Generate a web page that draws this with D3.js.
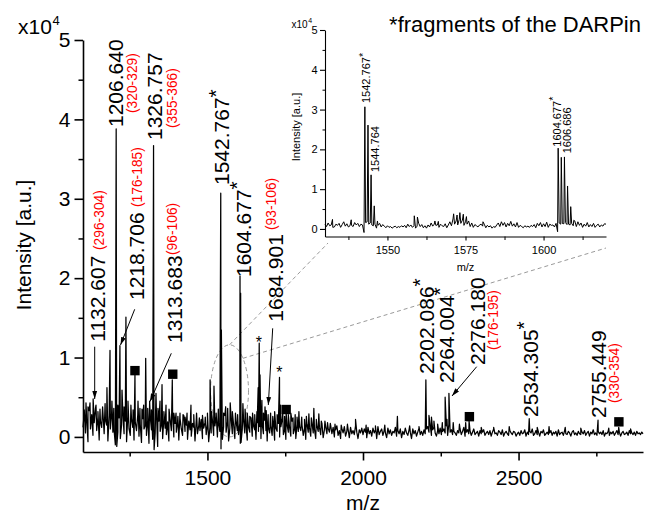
<!DOCTYPE html>
<html><head><meta charset="utf-8">
<script src="https://cdn.jsdelivr.net/npm/d3@7"></script>
<style>
body{margin:0;background:#fff;}
svg{display:block;font-family:"Liberation Sans",Arial,Helvetica,sans-serif;}
</style></head><body>
<svg id="c" width="645" height="513"></svg>
<script>
// ---------------- DATA (intensity in units of 10^4 a.u.) ----------------
const mzStart = 1100, mzStep = 4;          // regular sampling of baseline noise
const noise = [
.12,.30,.05,.22,-.06,.33,.10,.28,.02,.18,.36,.08,.25,-.04,.20,.12,.31,.04,.22,.15,-.05,.27,.10,.30,.06,
.08,-.10,.18,.06,.24,-.02,.15,.30,.04,.20,-.06,.26,.10,.02,.22,.12,-.04,.19,.08,.28,.01,.16,-.07,.23,.10,
.14,.02,.21,-.08,.26,.09,-.03,.18,.05,.31,-.12,.20,.07,.15,-.02,.24,.11,.03,.19,-.05,.22,.08,.29,.00,.17,
.06,.19,-.04,.23,.10,.02,.27,.07,.15,-.03,.20,.09,.01,.17,.12,-.05,.21,.04,.14,.08,.22,-.02,.11,.18,.03,
.16,-.06,.12,.05,.21,.02,.14,.26,.00,.18,.07,.24,-.03,.13,.27,.06,.19,-.05,.11,.23,.04,.16,-.02,.20,.08,
.03,.17,-.07,.10,.22,.05,.15,-.04,.12,.06,.24,.01,.14,.09,-.03,.18,.07,.13,-.02,.16,.04,.21,.08,-.05,.12,
.05,.14,.02,.19,-.04,.11,.07,.17,.00,.13,.22,.03,.09,-.03,.15,.06,.12,.01,.20,.04,.10,-.02,.16,.07,.13,
.08,.15,.02,.11,-.03,.16,.06,.12,.01,.18,.05,.10,-.02,.14,.07,.12,.03,.17,-.01,.09,.13,.04,.11,.06,.15,
.04,.12,.00,.09,.14,.02,.08,-.02,.11,.05,.13,.01,.07,.10,-.01,.12,.04,.08,.03,.14,.06,-.02,.09,.05,.11,
.03,.10,.06,-.01,.12,.04,.08,.01,.11,.05,.09,-.02,.13,.03,.07,.10,.02,.08,.05,-.01,.11,.04,.09,.02,.07,
.05,.12,.01,.08,.04,.10,-.01,.07,.03,.11,.05,.02,.09,.06,-.02,.10,.04,.08,.01,.06,.11,.03,.07,.02,.09,
.04,.10,.13,.06,.15,.02,.09,.12,.05,.01,.08,.04,.11,.03,.07,.10,.05,.14,.02,.16,.06,.09,.03,.07,.05,
.02,.08,.05,.10,.03,.07,.12,.01,.06,.09,.04,.08,.02,.06,.10,.03,.05,.07,.01,.08,.04,.06,.09,.02,.05,
.07,.03,.08,.01,.06,.10,.04,.05,.02,.08,.06,.03,.09,.01,.05,.07,.04,.02,.08,.05,.03,.07,.06,.01,.04,
.06,.02,.08,.04,.05,.09,.01,.06,.03,.07,.05,.10,.02,.04,.08,.03,.06,.01,.07,.05,.09,.02,.04,.06,.03,
.05,.08,.02,.06,.04,.07,.01,.09,.03,.05,.06,.02,.08,.04,.03,.07,.05,.01,.06,.08,.03,.05,.02,.07,.04,
.03,.06,.04,.08,.02,.05,.07,.01,.06,.04,.09,.03,.05,.02,.07,.04,.06,.03,.08,.01,.05,.04,.07,.02,.06,
.04,.07,.02,.05,.08,.03,.06,.01,.05,.07,.03,.04,.06,.02,.08,.04,.05,.03,.06,.02,.07,.04,.05,.03,.06,
.04];
const peaks = [
[1104,.34],[1109.6,.43],[1116,.38],[1122.5,.43],[1132.6,.48],[1141.8,.40],[1148,.32],[1154.6,.35],[1163,.38],
[1171,.42],[1177,.62],[1186.8,1.09],[1193,.45],[1199,.36],[1206.64,3.88],[1208.5,-.12],[1212,.40],[1218.71,1.15],
[1225.4,.59],[1232,.38],[1238,1.51],[1244.6,.45],[1254,.40],[1261,.34],[1267,.78],[1276.8,.45],[1283,.36],
[1289.6,.35],[1295,.40],[1301.5,.99],[1308,.36],[1314.2,.45],[1320,.34],[1326.76,3.67],[1328.5,-.16],[1334.6,.55],
[1341,.36],[1347.5,.45],[1354,.66],[1360,.32],[1366.8,.40],[1376.5,.35],[1387,.72],[1392,.30],[1399,.30],
[1405,.26],[1411.8,.30],[1421.5,.28],[1428,.25],[1434.4,.30],[1447,.40],[1456,.28],[1465,.30],[1474,.24],
[1484,.27],[1493,.25],[1500,.30],[1508.5,.72],[1513,.32],[1521,.64],[1528,.30],[1535,.35],[1542.77,3.07],
[1543.6,-.15],[1544.76,1.35],[1552,.30],[1558.6,.38],[1565,.36],[1573.2,.43],[1580,.32],[1590,.30],[1597,.28],
[1604.68,2.03],[1605.6,-.08],[1606.69,1.81],[1614,.42],[1621,.35],[1628,.30],[1636,.26],[1645,.30],[1652,.28],
[1659,.32],[1663,.62],[1666.4,1.18],[1669,.78],[1675,.46],[1680,.30],[1685,.38],[1689,.33],[1695,.28],
[1703,.30],[1710,.26],[1716,.32],[1724,.28],[1731.6,.75],[1735,.40],[1742,.30],[1748,.26],[1753,.30],
[1760,.28],[1768,.30],[1775,.24],[1782,.28],[1788,.25],[1794,.32],[1803,.25],[1812,.22],[1818,.26],
[1826,.29],[1834,.24],[1842,.36],[1850,.22],[1858,.29],[1866,.20],[1877.6,.20],[1886,.18],[1895,.17],
[1910,.16],[1930,.15],[1950,.16],[1976,.22],[2010,.15],[2040,.14],[2070,.15],[2110.6,.26],[2150,.14],
[2180,.13],[2202.09,.72],[2212,.27],[2220,.25],[2228,.20],[2240,.16],[2255,.18],[2264.0,.50],[2270,.22],
[2276.18,.55],[2290,.18],[2310,.16],[2330,.18],[2341,.20],[2380,.12],[2420,.12],[2470,.13],[2534.3,.23],
[2560,.12],[2598,.13],[2650,.12],[2700,.11],[2755.45,.21],[2790,.11],[2822,.12],[2860,.10]];

const insetStart = 1530, insetStep = 0.5;
const insetNoise = [
.12,.06,.15,.08,.10,.04,.05,.12,.09,.14,
.04,.11,.18,.07,.13,.05,.08,.09,.06,.16,
.10,.14,.06,.12,.10,-.09,.16,.18,.12,.15,
.10,.08,.12,.02,.09,.14,.05,.11,.07,.03,
.08,.04,.06,.02,.05,.07,.03,.06,.04,.08,
.05,.09,.03,.12,.06,.10,.04,.08,.02,.07,
.14,.06,.11,.03,.08,.02,.10,.05,.15,.07,
.12,.09,.10,.04,.12,.08,.06,.13,.03,.10,
.18,.08,.25,.12,.20,.10,.24,.14,.22,.09,
.18,.12,.20,.06,.15,.04,.11,.08,.05,.10,
.12,.07,.12,.03,.09,.05,.08,.02,.06,.04,
.10,.15,.06,.18,.09,.16,.05,.14,.08,.19,
.07,.13,.05,.16,.04,.09,.06,.03,.08,.05,
.07,.04,.09,.06,.11,.03,.14,.08,.16,.05,
.13,.06,.17,.04,.12,.09,.10,.05,.14,-.07,
.15,.12,.14,.13,.16,.11,.12,.10,.14,.08,
.20,.06,.18,.09,.15,.04,.12,.07,.16,.05,
.11,.06,.14,.04,.09,.12,.05,.10,.07,.13,
.12];
const insetPeaks = [
[1532.4,.24],[1538.4,.23],[1542.77,3.07],[1543.77,2.61],[1544.76,1.36],[1545.77,.58],[1546.8,.20],
[1558.6,.33],[1559.6,.30],[1565.2,.20],[1566.3,.19],[1571.2,.38],[1572.3,.35],[1573.2,.41],[1574.3,.37],
[1575.3,.31],[1580.6,.18],[1604.68,2.03],[1605.68,1.80],[1606.69,1.81],[1607.69,1.08],[1608.7,.56],[1609.7,.22]];

const yTicks = [0,1,2,3,4,5];
const yMinor = [0.5,1.5,2.5,3.5,4.5];
const xTicks = [1500,2000,2500];
const xMinor = [1250,1750,2250,2750];
const insetXTicks = [1550,1575,1600];
const insetXMinor = [1537.5,1562.5,1587.5,1612.5];

const labelText  = ["1132.607","1206.640","1218.706","1313.683","1326.757","1542.767","1604.677","1684.901","2202.086","2264.004","2276.180","2534.305","2755.449"];
const labelStar  = [false,false,false,false,false,true,true,false,true,true,false,true,false];
const rangeText  = ["(296-304)","(320-329)","(176-185)","(96-106)","(355-366)","(93-106)","(176-195)","(330-354)"];
const squareMz   = [1267,1388.5,1753,2342,2822.5];
const squareVal  = [0.835,0.79,0.345,0.255,0.19];
const starMz     = [1665.5,1731];
const starVal    = [1.24,0.86];
const insetLabelText = ["1542.767","1544.764","1604.677","1606.686"];
const insetLabelStar = [true,false,true,false];

// ---------------- LAYOUT (annotation placement, pixels) ----------------
const labelPos = [[97,341.7],[115.5,127],[136.5,300],[174.5,343],[154.5,140],[221.7,185],[243,277],[275,321.7],[426,374],[446,383],[477,365],[530,417],[598,418]];
const rangePos = [[100,250],[133,113],[137.5,207],[173,255],[173,128],[272,230],[494,350],[615,403]];
const arrows = [[[94.7,346.7],[94.7,399]],[[134.7,309.3],[120.5,345]],[[171.3,353.3],[150,401.5]],[[272.7,328.3],[268.3,405]],[[476.7,366.7],[452,396]]];
const insetLabelPos = [[366,103],[375,172],[556.7,146.7],[567.5,153.3]];

// ---------------- DRAW ----------------
const svg = d3.select("#c");
const x = d3.scaleLinear().domain([1100,2900]).range([83,643]);
const y = d3.scaleLinear().domain([-0.19,5]).range([452,40]);
const ix = d3.scaleLinear().domain([1530,1620]).range([325,606]);
const iy = d3.scaleLinear().domain([-0.19,5]).range([236.5,30]);

const defs = svg.append("defs");
defs.append("marker").attr("id","ah").attr("viewBox","0 0 10 10").attr("refX",10).attr("refY",5)
  .attr("markerWidth",8).attr("markerHeight",8).attr("markerUnits","userSpaceOnUse").attr("orient","auto")
  .append("path").attr("d","M0,2 L10,5 L0,8 Z").attr("fill","#000");

// dashed zoom indicator
const ecx = x(1571), ecy = y(0.58), erx = x(1632)-x(1571), ery = y(0)-y(0.58);
const dash = svg.append("g").attr("fill","none").attr("stroke","#9a9a9a").attr("stroke-width",1).attr("stroke-dasharray","4,3");
dash.append("ellipse").attr("cx",ecx).attr("cy",ecy).attr("rx",erx).attr("ry",ery);
dash.append("line").attr("x1",ecx).attr("y1",ecy-ery).attr("x2",ix(1530)+3).attr("y2",iy(-0.19)+6.5);
dash.append("line").attr("x1",ecx+erx*Math.SQRT1_2).attr("y1",ecy-ery*Math.SQRT1_2).attr("x2",ix(1620)).attr("y2",iy(-0.19)+11.5);

function styleAxis(g, fs, sw){
  g.attr("font-size",fs).attr("font-family",null);
  g.selectAll("text").attr("fill","#000");
  g.selectAll("path,line").attr("stroke","#000").attr("stroke-width",sw);
}
// main axes
svg.append("g").attr("transform","translate(83,0)")
  .call(d3.axisLeft(y).tickValues(yMinor).tickSize(4.5).tickFormat(""))
  .call(g=>{g.select(".domain").remove(); styleAxis(g,21,1.5);});
svg.append("g").attr("transform","translate(0,452)")
  .call(d3.axisBottom(x).tickValues(xMinor).tickSize(4.5).tickFormat(""))
  .call(g=>{g.select(".domain").remove(); styleAxis(g,21,1.5);});
svg.append("g").attr("transform","translate(83,0)")
  .call(d3.axisLeft(y).tickValues(yTicks).tickSize(8.5).tickSizeOuter(0).tickPadding(4).tickFormat(d3.format("d")))
  .call(g=>styleAxis(g,21,1.6));
svg.append("g").attr("transform","translate(0,452)")
  .call(d3.axisBottom(x).tickValues(xTicks).tickSize(8.5).tickSizeOuter(0).tickPadding(10).tickFormat(d3.format("d")))
  .call(g=>styleAxis(g,21,1.6));

// main spectrum
const mainPts = noise.map((v,i)=>[mzStart+i*mzStep, v]).concat(peaks).sort((a,b)=>a[0]-b[0]);
svg.append("path").datum(mainPts)
  .attr("d", d3.line().x(d=>x(d[0])).y(d=>y(d[1])))
  .attr("fill","none").attr("stroke","#000").attr("stroke-width",1.25).attr("stroke-linejoin","round");

// squares
svg.append("g").selectAll("rect").data(squareMz).join("rect")
  .attr("x",(d,i)=>x(d)-4.7).attr("y",(d,i)=>y(squareVal[i])-4.7).attr("width",9.4).attr("height",9.4).attr("fill","#000");
// small stars
svg.append("g").selectAll("text").data(starMz).join("text")
  .attr("x",d=>x(d)).attr("y",(d,i)=>y(starVal[i])+9.5).attr("text-anchor","middle").attr("font-size",16).text("*");

// arrows
svg.append("g").selectAll("line").data(arrows).join("line")
  .attr("x1",d=>d[0][0]).attr("y1",d=>d[0][1]).attr("x2",d=>d[1][0]).attr("y2",d=>d[1][1])
  .attr("stroke","#000").attr("stroke-width",1).attr("marker-end","url(#ah)");

// rotated labels
function vtext(g, cx, by, fs, str, star, color, centerFrac){
  const t = g.append("text").attr("transform",`translate(${cx+centerFrac*fs},${by}) rotate(-90)`)
    .attr("font-size",fs).attr("fill",color);
  t.append("tspan").text(str);
  if(star) t.append("tspan").attr("dy","-0.3em").text("*");
  return t;
}
const lab = svg.append("g");
labelText.forEach((s,i)=>vtext(lab,labelPos[i][0],labelPos[i][1],21,s,labelStar[i],"#000",0.358));
rangeText.forEach((s,i)=>vtext(lab,rangePos[i][0],rangePos[i][1],13.8,s,false,"#ff0000",0.32));

// axis titles
svg.append("text").attr("transform","translate(31,245) rotate(-90)").attr("text-anchor","middle").attr("font-size",21).text("Intensity [a.u.]");
svg.append("text").attr("x",(x.range()[0]+x.range()[1])/2).attr("y",510).attr("text-anchor","middle").attr("font-size",21).text("m/z");
svg.append("text").attr("x",18).attr("y",34).attr("font-size",21).text("x10");
svg.append("text").attr("x",52.5).attr("y",25).attr("font-size",13).text("4");
svg.append("text").attr("x",641).attr("y",32).attr("text-anchor","end").attr("font-size",22).text("*fragments of the DARPin");

// ---------------- INSET ----------------
const ins = svg.append("g");
ins.append("g").attr("transform","translate(325,0)")
  .call(d3.axisLeft(iy).tickValues(yMinor).tickSize(2.5).tickFormat(""))
  .call(g=>{g.select(".domain").remove(); styleAxis(g,11,1);});
ins.append("g").attr("transform","translate(0,236.5)")
  .call(d3.axisBottom(ix).tickValues(insetXMinor).tickSize(3.5).tickFormat(""))
  .call(g=>{g.select(".domain").remove(); styleAxis(g,11,1);});
ins.append("g").attr("transform","translate(325,0)")
  .call(d3.axisLeft(iy).tickValues(yTicks).tickSize(5).tickSizeOuter(0).tickPadding(2.5).tickFormat(d3.format("d")))
  .call(g=>styleAxis(g,11,1.1));
ins.append("g").attr("transform","translate(0,236.5)")
  .call(d3.axisBottom(ix).tickValues(insetXTicks).tickSize(4).tickSizeOuter(0).tickPadding(6).tickFormat(d3.format("d")))
  .call(g=>styleAxis(g,11,1.1));

const insetPts = insetNoise.map((v,i)=>[insetStart+i*insetStep, v]).concat(insetPeaks).sort((a,b)=>a[0]-b[0]);
ins.append("path").datum(insetPts)
  .attr("d", d3.line().x(d=>ix(d[0])).y(d=>iy(d[1])))
  .attr("fill","none").attr("stroke","#000").attr("stroke-width",1).attr("stroke-linejoin","round");

insetLabelText.forEach((s,i)=>vtext(ins,insetLabelPos[i][0],insetLabelPos[i][1],11,s,insetLabelStar[i],"#000",0.358));
ins.append("text").attr("transform","translate(299.5,127) rotate(-90)").attr("text-anchor","middle").attr("font-size",11).text("Intensity [a.u.]");
ins.append("text").attr("x",(ix.range()[0]+ix.range()[1])/2).attr("y",271).attr("text-anchor","middle").attr("font-size",11).text("m/z");
ins.append("text").attr("x",291.5).attr("y",27.5).attr("font-size",10).text("x10");
ins.append("text").attr("x",308.3).attr("y",22.5).attr("font-size",7).text("4");
</script>
</body></html>
